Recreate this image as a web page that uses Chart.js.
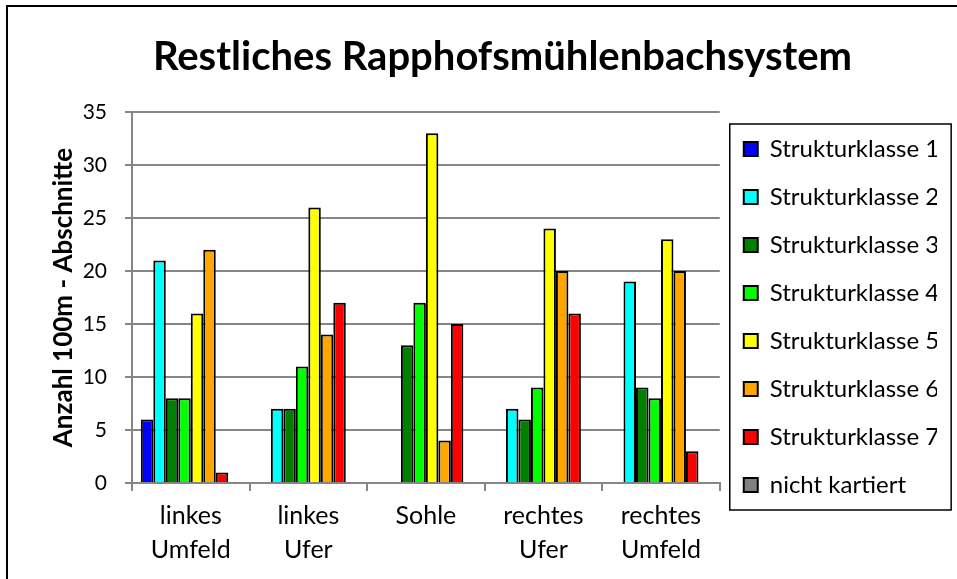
<!DOCTYPE html>
<html>
<head>
<meta charset="utf-8">
<script src="https://cdn.jsdelivr.net/npm/chart.js@4.4.0/dist/chart.umd.min.js"></script>
<style>
    html, body { margin: 0; padding: 0; background: #fff; }
    #wrap { width: 957px; height: 579px; }
</style>
</head>
<body>
<div id="wrap"><canvas id="chart" width="957" height="579"></canvas></div>
<script>
const categories = [['linkes', 'Umfeld'], ['linkes', 'Ufer'], ['Sohle'], ['rechtes', 'Ufer'], ['rechtes', 'Umfeld']];
const seriesNames = ['Strukturklasse 1', 'Strukturklasse 2', 'Strukturklasse 3', 'Strukturklasse 4',
    'Strukturklasse 5', 'Strukturklasse 6', 'Strukturklasse 7', 'nicht kartiert'];
const klasse1 = [6, 0, 0, 0, 0];
const klasse2 = [21, 7, 0, 7, 19];
const klasse3 = [8, 7, 13, 6, 9];
const klasse4 = [8, 11, 17, 9, 8];
const klasse5 = [16, 26, 33, 24, 23];
const klasse6 = [22, 14, 4, 20, 20];
const klasse7 = [1, 17, 15, 16, 3];
const nichtKartiert = [0, 0, 0, 0, 0];
const colors = ['#0000ff', '#00ffff', '#008000', '#00ff00', '#ffff00', '#ffa500', '#ff0000', '#808080'];

const values = [klasse1, klasse2, klasse3, klasse4, klasse5, klasse6, klasse7, nichtKartiert];
const font = 'Lato, "DejaVu Sans", sans-serif';

// outer frame (only left/top visible in the original) and the box round the legend
const frame = {
    id: 'frame',
    afterDraw(chart) {
        const ctx = chart.ctx;
        ctx.save();
        ctx.strokeStyle = '#000';
        ctx.lineWidth = 2;
        ctx.strokeRect(7, 6, chart.width + 10, chart.height + 10);
        const boxes = chart.legend.legendHitBoxes;
        if (boxes && boxes.length) {
            let l = Infinity, t = Infinity, r = -Infinity, b = -Infinity;
            boxes.forEach(h => {
                l = Math.min(l, h.left); t = Math.min(t, h.top);
                r = Math.max(r, h.left + h.width); b = Math.max(b, h.top + h.height);
            });
            ctx.lineWidth = 1.5;
            ctx.strokeRect(l - 14, t - 13, r - l + 26, b - t + 26);
        }
        ctx.restore();
    }
};

new Chart(document.getElementById('chart'), {
    type: 'bar',
    data: {
        labels: categories,
        datasets: seriesNames.map((name, i) => ({
            label: name,
            data: values[i],
            backgroundColor: colors[i],
            borderColor: '#000',
            borderWidth: 2,
            categoryPercentage: 0.85,
            barPercentage: 1,
        })),
    },
    options: {
        responsive: false,
        animation: false,
        layout: { padding: { left: 68, right: 20, top: 0, bottom: 0 } },
        plugins: {
            title: {
                display: true,
                text: 'Restliches Rapphofsmühlenbachsystem',
                color: '#000',
                font: { family: font, size: 40, weight: 'bold' },
                padding: { top: 33, bottom: 31 },
            },
            legend: {
                position: 'right',
                align: 'start',
                title: { display: true, text: ' ', font: { size: 10, lineHeight: 1 }, padding: { top: 103, bottom: 0 } },
                labels: {
                    color: '#000',
                    font: { family: font, size: 24 },
                    boxWidth: 14,
                    boxHeight: 14,
                    padding: 24,
                },
            },
            tooltip: { enabled: false },
        },
        scales: {
            x: {
                afterFit(scale) { scale.height = 96; },
                grid: { display: true, drawOnChartArea: false, color: '#868686', lineWidth: 2, tickLength: 8 },
                border: { color: '#868686', width: 2 },
                ticks: { color: '#000', font: { family: font, size: 25, lineHeight: 1.36 }, padding: 8, maxRotation: 0 },
            },
            y: {
                min: 0,
                max: 35,
                afterFit(scale) { scale.width = 64; },
                ticks: { stepSize: 5, color: '#000', font: { family: font, size: 21 }, padding: 18 },
                grid: { color: '#868686', lineWidth: 2, tickLength: 7 },
                border: { color: '#868686', width: 2 },
                title: {
                    display: true,
                    text: 'Anzahl 100m - Abschnitte',
                    color: '#000',
                    font: { family: font, size: 26, weight: 'bold' },
                    padding: { top: -20, bottom: 0 },
                },
            },
        },
    },
    plugins: [frame],
});
</script>
</body>
</html>
